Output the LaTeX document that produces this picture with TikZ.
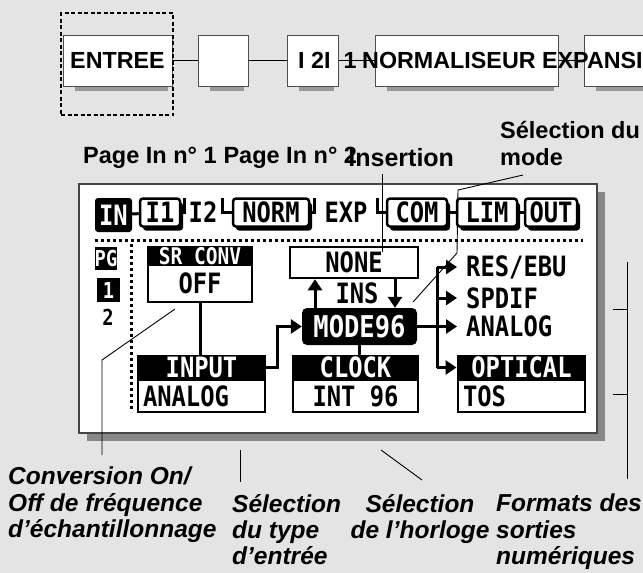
\documentclass[tikz,border=0pt]{standalone}
\usepackage{fontspec}
\setmainfont{Liberation Sans}
\newfontfamily\lcdfam{DejaVu Sans Mono}[FakeStretch=0.85]
\usetikzlibrary{arrows.meta,shadows}
\definecolor{bg}{RGB}{228,228,228}
\definecolor{frame}{RGB}{70,70,70}
\definecolor{pshadow}{RGB}{135,135,135}
\newcommand\tfont{\fontsize{23.3}{26}\selectfont\bfseries}
\newcommand\hfont{\fontsize{23.5}{27}\selectfont\bfseries}
\newcommand\ifont{\fontsize{25}{27}\selectfont\bfseries}
\newcommand\lfont{\fontsize{24.5}{26.2}\selectfont\bfseries\itshape}
\newcommand\lcdf{\fontsize{28}{30}\selectfont\lcdfam\bfseries}
\newcommand\lcdhd{\fontsize{23}{24}\selectfont\lcdfam\bfseries}
\newcommand\lcdsmall{\fontsize{22}{24}\selectfont\lcdfam\bfseries}
\newcommand\lcdbig{\fontsize{30}{32}\selectfont\lcdfam\bfseries}
\begin{document}
\begin{tikzpicture}[x=1pt,y=-1pt,
 topbox/.style={draw=black!70,line width=1pt,fill=white,inner sep=0,minimum height=51pt,font=\tfont},
 lcdtab/.style={draw=black,line width=2.5pt,fill=white,rounded corners=3pt,inner sep=0,minimum height=28pt,font=\lcdf,
   drop shadow={shadow xshift=3pt,shadow yshift=-4pt,fill=black,opacity=1}},
 lcdline/.style={line width=3pt},
 lcdarrow/.style={line width=3pt,-{Triangle[length=11pt,width=14pt]}},
 hdr/.style={fill=black,text=white,inner sep=0,font=\lcdf},
 lcdbody/.style={draw=black,line width=2.5pt,fill=white,inner sep=0,font=\lcdf},
 note/.style={line width=0.9pt},
 lab/.style={font=\lfont,align=left,inner sep=0},
 plain/.style={inner sep=0}]
\useasboundingbox (0,0) rectangle (643,573);
\fill[bg] (0,0) rectangle (643,573);
\clip (0,0) rectangle (643,573);

% ---------- top chain ----------
\node[topbox,minimum width=109pt] (entree) at (117.5,60.5) {ENTREE};
\node[draw=black,line width=1.6pt,dash pattern=on 4pt off 2.5pt,minimum width=112pt,minimum height=102pt,inner sep=0] (grp) at (117,64) {};
\node[topbox,minimum width=50pt] (b2) at (223,60.5) {};
\node[topbox,minimum width=51pt] (b3) at (312.5,60.5) {};
\node[topbox,minimum width=183pt] (b4) at (466.5,60.5) {};
\node[topbox,minimum width=80pt] (b5) at (624,60.5) {};
\foreach \n in {entree,b2,b3,b4,b5}
  \fill[black!40] ([xshift=12pt]\n.south west) rectangle ([xshift=-5pt,yshift=-4pt]\n.south east);
\draw[line width=1.5pt] (entree) -- (b2);
\draw[line width=1.5pt] (b2) -- (b3);
\draw[line width=1.5pt] (b3) -- (b4);
\draw[line width=1.5pt] (b4) -- (b5);
\node[plain,font=\tfont,anchor=west] (t3) at (298,60) {I 2I};
\node[plain,font=\tfont] (t1) at (350,60) {1};
\node[plain,font=\tfont,anchor=west] (tn) at (362,60) {NORMALISEUR EXPANSI};

% ---------- upper labels ----------
\node[plain,font=\hfont,anchor=west] (p1) at (83,158) {Page In n° 1};
\node[plain,font=\hfont,anchor=west] (p2) at ([xshift=6.5pt]p1.east) {Page In n° 2};
\node[plain,font=\ifont,anchor=west] (insl) at ([xshift=-9pt]p2.east) {Insertion};
\node[plain,font=\hfont,anchor=north west,align=left] (model) at (500,121) {Sélection du\\mode};

% ---------- panel ----------
\fill[pshadow] (87,192) rectangle (605,441);
\node[draw=frame,line width=1.2pt,fill=white,minimum width=518pt,minimum height=249pt,inner sep=0] (panel) at (338,308.5) {};

% dotted separators
\draw[line width=3pt,dash pattern=on 3pt off 3pt] (95,240) -- (583,240);
\draw[line width=3pt,dash pattern=on 3pt off 3pt] (131,244) -- (131,412);

% tabs
\node[fill=black,text=white,rounded corners=3pt,minimum width=37pt,minimum height=34pt,inner sep=0,font=\lcdf] (tIN) at (113.5,215) {IN};
\node[lcdtab,minimum width=40pt] (tI1) at (160,212.5) {I1};
\node[plain,font=\lcdf] (tI2) at (203,212) {I2};
\node[lcdtab,minimum width=76pt] (tNORM) at (271,212.5) {NORM};
\node[plain,font=\lcdf] (tEXP) at (346,212) {EXP};
\node[lcdtab,minimum width=60pt] (tCOM) at (417,212.5) {COM};
\node[lcdtab,minimum width=60pt] (tLIM) at (487,212.5) {LIM};
\node[lcdtab,minimum width=52pt] (tOUT) at (551,212.5) {OUT};
\coordinate (k1) at (184,198);
\coordinate (k2) at (222,198);
\coordinate (k3) at (314,198);
\coordinate (k4) at (377,198);
\draw[lcdline] (tIN) -- (tI1);
\draw[lcdline] (tI1.east) -| (k1);
\draw[lcdline] (k2) |- (tNORM.west);
\draw[lcdline] (tNORM.east) -| (k3);
\draw[lcdline] (k4) |- (tCOM.west);
\draw[lcdline] (tCOM) -- (tLIM);
\draw[lcdline] (tLIM) -- (tOUT);

% page column
\node[hdr,font=\lcdsmall,minimum width=22pt,minimum height=23pt] (pg) at (106,258.5) {PG};
\node[hdr,font=\lcdsmall,minimum width=23pt,minimum height=24pt] (pg1) at (108.5,290) {1};
\node[plain,font=\lcdsmall] (pg2) at (108,317) {2};

% SR CONV
\node[lcdbody,minimum width=104pt,minimum height=38pt] (srb) at (200,283) {OFF};
\node[hdr,font=\lcdhd,minimum width=106.5pt,minimum height=20pt] (srh) at (200,256) {SR CONV};

% INPUT
\node[lcdbody,minimum height=32pt,text width=117pt,inner xsep=5pt,align=left] (inb) at (201.5,396) {ANALOG};
\node[hdr,minimum width=129.5pt,minimum height=25pt] (inh) at (201.5,367.5) {INPUT};

% CLOCK
\node[lcdbody,minimum width=125pt,minimum height=32pt] (ckb) at (355.5,396) {INT 96};
\node[hdr,minimum width=127.5pt,minimum height=25pt] (ckh) at (355.5,367.5) {CLOCK};

% OPTICAL
\node[lcdbody,minimum height=32pt,text width=117pt,inner xsep=5pt,align=left] (opb) at (521.5,396) {TOS};
\node[hdr,minimum width=129.5pt,minimum height=25pt] (oph) at (521.5,367.5) {OPTICAL};

% mode
\node[fill=black,text=white,rounded corners=5pt,minimum width=115pt,minimum height=37pt,inner sep=0,font=\lcdbig] (mode) at (359.5,326.5) {MODE96};
\node[lcdbody,minimum width=128pt,minimum height=31pt] (none) at (354,262.5) {NONE};
\node[plain,font=\lcdf] (ins) at (357,293) {INS};

% outputs
\node[plain,font=\lcdf,anchor=west] (res) at (466,267) {RES/EBU};
\node[plain,font=\lcdf,anchor=west] (spd) at (466,298) {SPDIF};
\node[plain,font=\lcdf,anchor=west] (ana) at (466,326.5) {ANALOG};

% LCD connectors
\draw[lcdarrow] ([xshift=-44.5pt]mode.north) -- ([xshift=-39pt]none.south);
\draw[lcdarrow] ([xshift=41pt]none.south) -- ([xshift=35.5pt]mode.north);
\draw[lcdline] (srb.south) -- (srb.south |- inh.north);
\coordinate (j1) at (277,367.5);
\draw[lcdarrow] (inh.east) -- (j1) |- (mode.west);
\draw[lcdline] (mode.south) -- (mode.south |- ckh.north);
\coordinate (bt) at (437,267);
\coordinate (bb) at (437,367.5);
\draw[lcdline] (bt) -- (bb);
\draw[lcdarrow] (bt) -- ([xshift=-9pt]res.west);
\draw[lcdarrow] (bt |- spd.west) -- ([xshift=-9pt]spd.west);
\draw[lcdarrow] (mode.east) -- ([xshift=-9pt]ana.west);
\draw[lcdarrow] (bb) -- (oph.west);

% ---------- annotation lines ----------
\coordinate (a1) at (382,174);
\draw[note] (a1) -- ([yshift=-6pt]none.north -| a1);
\coordinate (m1) at (523,175);
\coordinate (m2) at (458,190);
\coordinate (m3) at (457,253);
\coordinate (m4) at (413,302);
\draw[note] (m1) -- (m2) -- (m3) -- (m4);
\coordinate (c1) at (102,455);
\coordinate (c2) at (102,360);
\coordinate (c3) at (175,309);
\draw[note] (c1) -- (c2) -- (c3);
\coordinate (d1) at (240,450);
\coordinate (d2) at (240,482);
\draw[note] (d1) -- (d2);
\coordinate (h1) at (381,450);
\coordinate (h2) at (422,480);
\draw[note] (h1) -- (h2);
\coordinate (f1) at (627,262);
\coordinate (f2) at (627,479);
\coordinate (f3) at (613,309);
\coordinate (f4) at (613,394);
\draw[note] (f1) -- (f2);
\draw[note] (f3) -- (f3 -| f1);
\draw[note] (f4) -- (f4 -| f1);

% ---------- bottom labels ----------
\node[lab,anchor=north west] (conv) at (8,467) {Conversion On/\\Off de fréquence\\d'échantillonnage};
\node[lab,anchor=north west] (typ) at (232,494) {Sélection\\du type\\d'entrée};
\node[lab,anchor=north,align=center] (hor) at (420,494) {Sélection\\de l'horloge};
\node[lab,anchor=north west] (fmt) at (496,494) {Formats des\\sorties\\numériques};
\end{tikzpicture}
\end{document}
